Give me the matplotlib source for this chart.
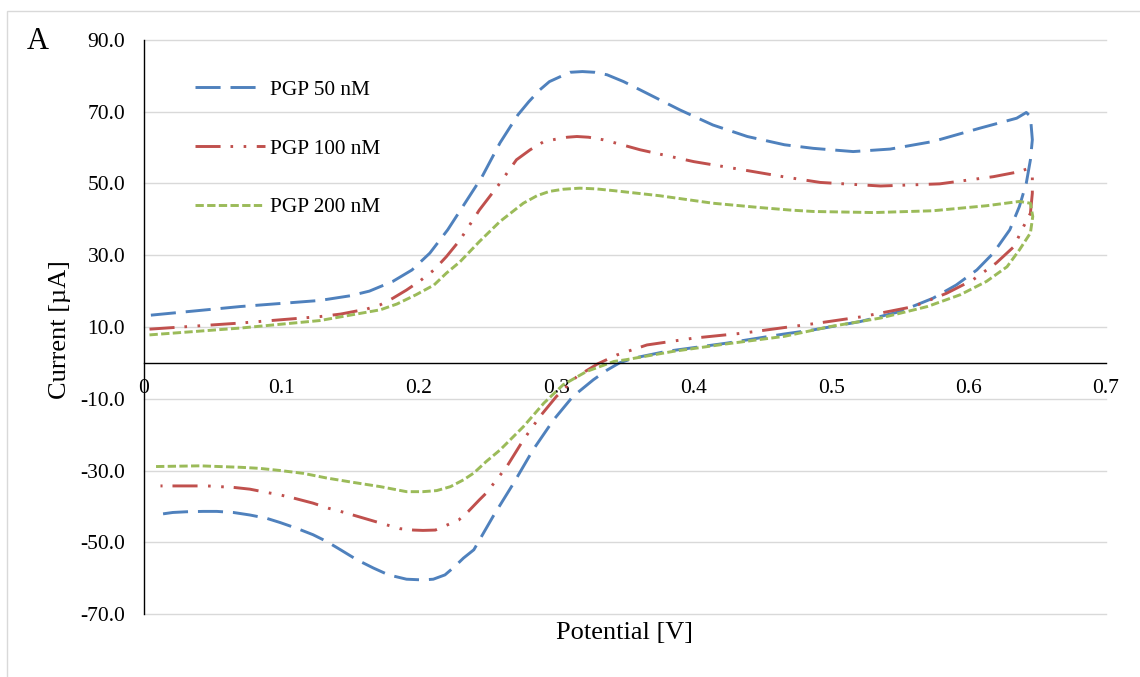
import matplotlib
matplotlib.use("Agg")
import matplotlib.pyplot as plt
from matplotlib.patches import Rectangle

# ---------------- data ----------------
series_labels = ["PGP 50 nM", "PGP 100 nM", "PGP 200 nM"]

pgp50_x = [0.005, 0.070, 0.128, 0.150, 0.164, 0.181, 0.195, 0.208, 0.221, 0.232,
           0.246, 0.259, 0.272, 0.280, 0.288, 0.295, 0.303, 0.310, 0.319, 0.328,
           0.337, 0.349, 0.361, 0.390, 0.414, 0.439, 0.466, 0.487, 0.516, 0.543,
           0.574, 0.608, 0.635, 0.642, 0.645,
           0.6464, 0.645, 0.642, 0.637, 0.630, 0.618, 0.606, 0.591, 0.574, 0.550,
           0.521, 0.487, 0.465, 0.424, 0.380, 0.356, 0.346, 0.337, 0.327, 0.312,
           0.298, 0.283, 0.269, 0.254, 0.240, 0.2325, 0.226, 0.219, 0.2105, 0.203,
           0.191, 0.178, 0.167, 0.155, 0.143, 0.133, 0.123, 0.111, 0.099, 0.089,
           0.077, 0.065, 0.053, 0.043, 0.031, 0.021, 0.008]
pgp50_y = [13.3, 15.7, 17.4, 18.7, 20.0, 22.7, 25.9, 30.6, 37.1, 43.6,
           51.9, 61.3, 69.1, 72.8, 76.1, 78.4, 79.8, 81.0, 81.2, 81.0,
           80.3, 78.4, 76.1, 70.5, 66.3, 63.1, 60.8, 59.8, 58.9, 59.6,
           61.7, 65.4, 68.2, 69.8, 68.7,
           62.2, 56.6, 50.1, 43.6, 37.1, 30.6, 25.9, 21.7, 18.0, 14.3,
           11.5, 9.2, 8.0, 5.5, 3.2, 1.3, 0.0, -2.0, -4.7, -9.4,
           -15.9, -24.3, -33.5, -42.8, -52.1, -54.4, -56.8, -59.1, -60.3, -60.5,
           -60.3, -59.1, -57.2, -54.9, -52.1, -49.8, -47.9, -46.1, -44.5, -43.3,
           -42.4, -41.7, -41.4, -41.4, -41.5, -41.7, -42.4]

pgp100_x = [0.004, 0.070, 0.128, 0.143, 0.162, 0.172, 0.181, 0.191, 0.201, 0.211,
            0.220, 0.230, 0.244, 0.258, 0.271, 0.281, 0.291, 0.299, 0.308, 0.315,
            0.3235, 0.334, 0.344, 0.361, 0.400, 0.436, 0.465, 0.492, 0.536, 0.579,
            0.618, 0.637, 0.642, 0.6464,
            0.6464, 0.645, 0.640, 0.633, 0.620, 0.603, 0.584, 0.560, 0.523, 0.487,
            0.465, 0.436, 0.400, 0.366, 0.344, 0.330, 0.315, 0.300, 0.288, 0.276,
            0.264, 0.249, 0.244, 0.236, 0.229, 0.212, 0.203, 0.196, 0.186, 0.177,
            0.168, 0.152, 0.143, 0.134, 0.123, 0.109, 0.099, 0.089, 0.077, 0.065,
            0.055, 0.046, 0.036, 0.012]
pgp100_y = [9.4, 11.1, 12.9, 13.6, 15.0, 16.2, 18.0, 20.3, 22.9, 25.9,
            29.6, 34.3, 42.6, 49.6, 56.6, 59.4, 61.7, 62.3, 62.9, 63.1,
            62.9, 62.2, 61.2, 59.4, 56.1, 53.8, 51.9, 50.3, 49.3, 49.9,
            51.9, 53.3, 54.0, 51.8,
            47.3, 41.7, 38.0, 32.4, 27.8, 23.1, 19.4, 15.7, 12.9, 10.9,
            9.8, 8.3, 6.9, 5.0, 2.2, -0.3, -3.8, -9.4, -15.0, -21.5,
            -28.9, -36.3, -38.2, -41.4, -43.8, -46.6, -46.7, -46.6, -46.2, -45.2,
            -44.2, -42.4, -41.4, -40.5, -39.1, -37.7, -36.8, -36.1, -35.2, -34.7,
            -34.5, -34.3, -34.3, -34.3]

pgp200_x = [0.004, 0.070, 0.128, 0.172, 0.184, 0.198, 0.211, 0.220, 0.230, 0.244,
            0.259, 0.276, 0.286, 0.295, 0.305, 0.317, 0.329, 0.342, 0.375, 0.414,
            0.448, 0.470, 0.487, 0.531, 0.574, 0.613, 0.637, 0.645,
            0.6467, 0.645, 0.637, 0.628, 0.613, 0.594, 0.570, 0.536, 0.499, 0.466,
            0.424, 0.385, 0.351, 0.342, 0.322, 0.305, 0.291, 0.276, 0.259, 0.249,
            0.240, 0.2325, 0.223, 0.213, 0.203, 0.196, 0.191, 0.172, 0.152, 0.133,
            0.116, 0.099, 0.084, 0.070, 0.055, 0.041, 0.024, 0.008]
pgp200_y = [7.8, 9.7, 11.8, 14.8, 16.4, 19.0, 21.7, 25.0, 28.2, 33.8,
            39.4, 44.5, 46.6, 47.8, 48.4, 48.7, 48.5, 48.0, 46.6, 44.5,
            43.3, 42.6, 42.2, 41.9, 42.4, 43.8, 45.0, 44.5,
            40.8, 36.2, 31.5, 26.8, 22.7, 19.0, 15.7, 12.5, 10.1, 7.4,
            5.3, 3.2, 0.9, 0.4, -2.4, -6.1, -11.2, -17.8, -24.3, -27.5,
            -30.7, -32.6, -34.5, -35.6, -35.9, -35.9, -35.9, -34.5, -33.3, -32.1,
            -30.8, -30.0, -29.4, -29.1, -28.9, -28.7, -28.8, -28.9]

x_ticks = [0, 0.1, 0.2, 0.3, 0.4, 0.5, 0.6, 0.7]
x_tick_labels = ["0", "0.1", "0.2", "0.3", "0.4", "0.5", "0.6", "0.7"]
y_ticks = [-70, -50, -30, -10, 10, 30, 50, 70, 90]

# ---------------- styling ----------------
plt.rcParams['font.family'] = ['Liberation Serif', 'DejaVu Serif']

W, H = 1140, 677
fig = plt.figure(figsize=(W / 100, H / 100), dpi=100)
fig.patch.set_facecolor('white')

# light outer chart border
fig.patches.append(Rectangle((7 / W, -0.05), 1.1, 1 - 11 / H + 0.05,
                             transform=fig.transFigure, fill=False,
                             edgecolor='#D9D9D9', linewidth=1.0))

ax = fig.add_axes([144 / W, 1 - 614 / H, (1106 - 144) / W, (614 - 40) / H])

colors = ['#4F81BD', '#C0504D', '#9BBB59']
lw = 2.1
ax.plot(pgp50_x, pgp50_y, color=colors[0], lw=lw, dashes=(8.6, 3.4),
        label=series_labels[0], dash_capstyle='butt')
ax.plot(pgp100_x, pgp100_y, color=colors[1], lw=lw,
        dashes=(8.6, 3.4, 0.9, 3.6, 0.9, 3.6), label=series_labels[1],
        dash_capstyle='butt')
ax.plot(pgp200_x, pgp200_y, color=colors[2], lw=lw, dashes=(2.85, 1.15),
        label=series_labels[2], dash_capstyle='butt')

ax.set_xlim(0, 0.7)
ax.set_ylim(-70, 90)
ax.set_yticks(y_ticks)
ax.set_yticklabels([f"{v:.1f}" for v in y_ticks])
ax.set_xticks(x_ticks)
ax.set_xticklabels(x_tick_labels)

ax.yaxis.grid(True, color='#D9D9D9', linewidth=1.0)
ax.xaxis.grid(False)
ax.set_axisbelow(True)
for gl in ax.yaxis.get_gridlines():
    gl.set_clip_on(False)

for s in ['top', 'right']:
    ax.spines[s].set_visible(False)
ax.spines['left'].set_color('black')
ax.spines['left'].set_linewidth(1.0)
ax.spines['bottom'].set_position(('data', 0))
ax.spines['bottom'].set_color('black')
ax.spines['bottom'].set_linewidth(1.0)

ax.tick_params(axis='both', length=0, labelsize=15.5, colors='black')
ax.tick_params(axis='y', pad=13.5)
ax.tick_params(axis='x', pad=11.5)

ax.set_xlabel("Potential [V]", fontsize=19)
ax.xaxis.set_label_coords(0.5, (614 - 633) / 574)
ax.xaxis.label.set_va('center')
ax.set_ylabel("Current [µA]", fontsize=19)
ax.yaxis.set_label_coords((60 - 144) / 962, 0.495)
ax.yaxis.label.set_va('center')

leg = ax.legend(loc='upper left', bbox_to_anchor=(195 / W, 1 - 80 / H),
                bbox_transform=fig.transFigure, frameon=False, fontsize=15.3,
                handlelength=3.3, handletextpad=0.25, labelspacing=1.83,
                borderpad=0, borderaxespad=0)

fig.text(27 / W, 1 - 49 / H, "A", fontsize=22, va='baseline', ha='left')

fig.savefig("out.png", dpi=100, facecolor='white')
